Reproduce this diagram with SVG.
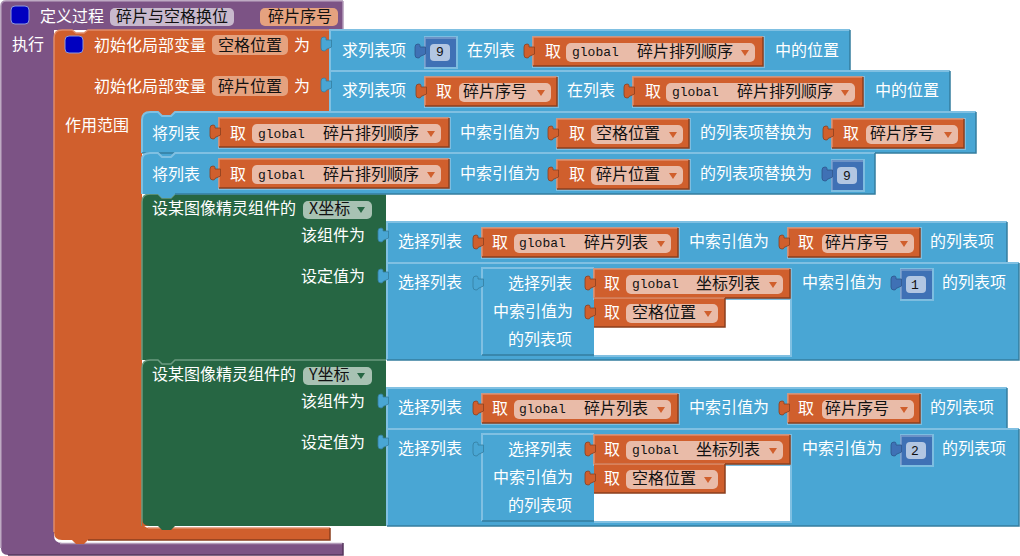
<svg xmlns="http://www.w3.org/2000/svg" width="1020" height="556" viewBox="0 0 1020 556">
<style>
text{font-family:"Noto Sans CJK SC","Liberation Sans",sans-serif;font-size:16px;fill:#fff}
text.k{fill:#111}
text.m{font-family:"Liberation Mono",monospace;font-size:13px;fill:#111}
.b{fill:#49a6d4}.bl{fill:none;stroke:#80c0e2;stroke-width:2}.bd{fill:none;stroke:#357d9f;stroke-width:1.5}
.o{fill:#d05f2d}.ol{fill:none;stroke:#e08c68;stroke-width:1.5}.od{fill:none;stroke:#8a3f1e;stroke-width:1.5}
.f{fill:#e9bba8}.a{fill:#d05f2d}
.h{fill:#7dbde0}
.g{fill:#266643}.gl{fill:none;stroke:#6b9a80;stroke-width:1.5}
.n{fill:#3f71b5}.nf{fill:#b2c6e2}
.tb{fill:#49a6d4;stroke:#357d9f;stroke-width:.8}
.to{fill:#d05f2d;stroke:#8a3f1e;stroke-width:.8}
.tn{fill:#3f71b5;stroke:#2d558c;stroke-width:.8}
</style>
<defs>
<path id="tab" d="M1.500 3H-4V1.500Q-4 0-6 0Q-9 0-9 3V11Q-9 14-6 14Q-4 14-4 12.500L1.500 10Z"/>
<path id="arr" d="M-4 0H4L0 6Z"/>
<g id="num">
<rect x="0" y="-1" width="34" height="33" class="h"/>
<rect x="1" y="0" width="31" height="30" class="n"/>
<path d="M1 30V1H32" fill="none" stroke="#7c9dcc" stroke-width="1.500"/>
<use href="#tab" class="tn" x="0" y="7"/>
<rect x="6" y="7" width="20" height="17" rx="4" class="nf"/>
</g>
<g id="get132">
<rect x="-1" y="-1" width="135" height="32" class="h"/>
<rect width="132" height="29" class="o"/>
<path d="M0 29V0H132" class="ol"/><path d="M0 29H132V0" class="od"/>
<use href="#tab" class="to" y="7"/>
<rect x="34" y="6" width="92" height="19" rx="5" class="f"/>
<use href="#arr" class="a" x="116" y="13"/>
</g>
<g id="get230">
<rect x="-1" y="-1" width="233" height="32" class="h"/>
<rect width="230" height="29" class="o"/>
<path d="M0 29V0H230" class="ol"/><path d="M0 29H230V0" class="od"/>
<use href="#tab" class="to" y="7"/>
<rect x="33" y="6" width="189" height="19" rx="5" class="f"/>
<use href="#arr" class="a" x="212" y="13"/>
</g>
<g id="get196">
<rect x="-1" y="-1" width="199" height="32" class="h"/>
<rect width="196" height="29" class="o"/>
<path d="M0 29V0H196" class="ol"/><path d="M0 29H196V0" class="od"/>
<use href="#tab" class="to" y="7"/>
<rect x="32" y="6" width="157" height="19" rx="5" class="f"/>
<use href="#arr" class="a" x="179" y="13"/>
</g>
<g id="row5">
<path d="M1 0H620V41H1Z" class="b"/><path d="M0 41V0H620" class="bl"/><path d="M0 41H620V0" class="bd"/>
<use href="#tab" class="tb" x="0" y="6"/>
<use href="#get196" x="95" y="6"/>
<use href="#get132" x="401" y="6"/>
</g>
<g id="row6">
<path d="M0 0H632V97H0Z" class="b"/><path d="M0 97V0H632" class="bl"/><path d="M0 97H632V0" class="bd"/>
<use href="#tab" class="tb" y="6"/>
<rect x="207" y="6" width="197" height="86" fill="#fff"/>
<path d="M404 5V93H207" fill="none" stroke="#80c0e2" stroke-width="2"/>
<rect x="95" y="5" width="112" height="87" class="b"/>
<path d="M95 92V5H207" class="bl"/><path d="M95 92H207" class="bd"/>
<use href="#tab" class="tb" x="95" y="13"/>
<use href="#get196" x="207" y="6"/>
<g><rect x="207" y="35" width="131" height="29" class="o"/>
<path d="M207 35H338" class="ol"/><path d="M207 64H338V35" class="od"/>
<use href="#tab" class="to" x="207" y="42"/>
<rect x="239" y="41" width="92" height="19" rx="5" class="f"/>
<use href="#arr" class="a" x="321" y="48"/></g>
<use href="#num" x="513" y="6"/>
</g>
<g id="green">
<path d="M150 0H158L162 4H171L175 0H386V166H142V8Q142 0 150 0Z" class="g"/>
<path d="M142 166V8Q142 0 150 0H158L162 4H171L175 0H386" class="gl"/>
<rect x="303" y="7" width="69" height="18" rx="5" fill="#a8c2b3"/>
<use href="#arr" fill="#266643" x="361" y="13"/>
</g>
</defs>

<g id="procedure">
<path d="M6 1H343V30H54V535Q54 543 62 543H343V555H8Q1 555 1 548V6Q1 1 6 1Z" fill="#7c5385"/>
<path d="M1 548V6Q1 1 6 1H343" fill="none" stroke="#a98eb0" stroke-width="1.500"/>
<path d="M343 1V30M60 543.500H343" fill="none" stroke="#b39cb9" stroke-width="1.500"/>
<path d="M343 543V555H8" fill="none" stroke="#55365c" stroke-width="1.500"/>
<rect x="11" y="6" width="18" height="18" rx="4" fill="#0000c0" stroke="#8f9ad8"/>
<text x="40" y="22">定义过程</text>
<rect x="110" y="8" width="124" height="18" rx="5" fill="#c8b9cd"/>
<text class="k" x="116" y="22">碎片与空格换位</text>
<rect x="260" y="8" width="78" height="18" rx="5" fill="#e5a27f"/>
<text class="k" x="268" y="22">碎片序号</text>
<text x="12" y="50">执行</text>
</g>

<g id="local-vars">
<path d="M62 30H72L76 33H84L88 30H330V112H175L171 116H162L158 112H150Q142 112 142 120V518Q142 528 150 528H330V540H88L84 544H76L72 540H62Q54 540 54 532V38Q54 30 62 30Z" class="o"/>
<path d="M54 532V38Q54 30 62 30H72L76 33H84L88 30H330" class="ol"/>
<path d="M148 528H330" class="ol"/><path d="M330 528V540H88" class="od"/>
<rect x="65" y="36" width="18" height="17" rx="4" fill="#0000c0" stroke="#8f9ad8"/>
<text x="94" y="51">初始化局部变量</text>
<rect x="212" y="35" width="76" height="20" rx="5" fill="#e5a27f"/>
<text class="k" x="218" y="51">空格位置</text>
<text x="294" y="51">为</text>
<text x="94" y="92">初始化局部变量</text>
<rect x="212" y="76" width="76" height="20" rx="5" fill="#e5a27f"/>
<text class="k" x="218" y="92">碎片位置</text>
<text x="294" y="92">为</text>
<text x="65" y="131">作用范围</text>
</g>

<g id="index-space">
<rect x="330" y="30" width="520" height="41" class="b"/><path d="M330 71V30H850" class="bl"/><path d="M330 71H850V30" class="bd"/>
<use href="#tab" class="tb" x="330" y="37"/>
<text x="342" y="56">求列表项</text>
<use href="#num" x="424" y="37"/>
<text class="m" x="436" y="56">9</text>
<text x="467" y="56">在列表</text>
<use href="#get230" x="533" y="37"/>
<text x="545" y="57">取</text><text class="m" x="572" y="56">global</text><text class="k" x="637" y="57">碎片排列顺序</text>
<text x="775" y="56">中的位置</text>
</g>
<g id="index-piece">
<rect x="330" y="71" width="620" height="41" class="b"/><path d="M330 112V71H950" class="bl"/><path d="M330 112H950V71" class="bd"/>
<use href="#tab" class="tb" x="330" y="78"/>
<text x="342" y="96">求列表项</text>
<use href="#get132" x="425" y="77"/>
<text x="436" y="97">取</text><text class="k" x="463" y="97">碎片序号</text>
<text x="567" y="96">在列表</text>
<use href="#get230" x="633" y="77"/>
<text x="645" y="97">取</text><text class="m" x="672" y="96">global</text><text class="k" x="737" y="97">碎片排列顺序</text>
<text x="875" y="96">中的位置</text>
</g>

<g id="set-x">
<use href="#green" y="194"/>
<path d="M158 360H175L171 365H162Z" class="g"/>
</g>
<g id="set-y">
<use href="#green" y="360"/>
<path d="M142 526V518Q142 526 150 526Z" class="o"/>
<path d="M158 526H175L171 530H162Z" class="g"/>
</g>

<g id="set-list-1">
<path d="M150 112H158L162 116H171L175 112H976V153H175L171 157H162L158 153H142V120Q142 112 150 112Z" class="b"/>
<path d="M142 153V120Q142 112 150 112H158L162 116H171L175 112H976" class="bl"/><path d="M142 153H976V112" class="bd"/>
<text x="152" y="139">将列表</text>
<use href="#get230" x="219" y="118"/>
<text x="230" y="139">取</text><text class="m" x="258" y="138">global</text><text class="k" x="323" y="139">碎片排列顺序</text>
<text x="460" y="138">中索引值为</text>
<use href="#get132" x="557" y="119"/>
<text x="569" y="139">取</text><text class="k" x="596" y="139">空格位置</text>
<text x="700" y="138">的列表项替换为</text>
<use href="#get132" x="832" y="119"/>
<text x="843" y="139">取</text><text class="k" x="870" y="139">碎片序号</text>
</g>
<g id="set-list-2">
<path d="M150 153H158L162 157H171L175 153H875V194H175L171 198H162L158 194H142V160Q142 153 150 153Z" class="b"/>
<path d="M142 194V160Q142 153 150 153H158L162 157H171L175 153H875" class="bl"/><path d="M175 194H875V153" class="bd"/>
<text x="152" y="180">将列表</text>
<use href="#get230" x="219" y="159"/>
<text x="230" y="180">取</text><text class="m" x="258" y="179">global</text><text class="k" x="323" y="180">碎片排列顺序</text>
<text x="460" y="179">中索引值为</text>
<use href="#get132" x="557" y="160"/>
<text x="569" y="180">取</text><text class="k" x="596" y="180">碎片位置</text>
<text x="700" y="179">的列表项替换为</text>
<use href="#num" x="831" y="160"/>
<text class="m" x="843" y="180">9</text>
</g>

<g id="x-labels">
<text x="152" y="214">设某图像精灵组件的</text>
<text class="k" x="309" y="214">X坐标</text>
<text x="301" y="241">该组件为</text>
<text x="301" y="282">设定值为</text>
</g>
<g id="x-pick">
<use href="#row5" x="387" y="222"/>
<text x="398" y="247">选择列表</text>
<text x="492" y="248">取</text><text class="m" x="519" y="247">global</text><text class="k" x="584" y="248">碎片列表</text>
<text x="689" y="247">中索引值为</text>
<text x="798" y="248">取</text><text class="k" x="825" y="248">碎片序号</text>
<text x="930" y="247">的列表项</text>
</g>
<g id="x-value">
<use href="#row6" x="387" y="263"/>
<text x="398" y="288">选择列表</text>
<text x="508" y="289">选择列表</text>
<text x="493" y="317">中索引值为</text>
<text x="508" y="345">的列表项</text>
<text x="604" y="289">取</text><text class="m" x="632" y="288">global</text><text class="k" x="696" y="289">坐标列表</text>
<text x="604" y="318">取</text><text class="k" x="632" y="318">空格位置</text>
<text x="802" y="288">中索引值为</text>
<text class="m" x="911" y="289">1</text>
<text x="942" y="288">的列表项</text>
</g>

<g id="y-labels">
<text x="152" y="380">设某图像精灵组件的</text>
<text class="k" x="309" y="380">Y坐标</text>
<text x="301" y="407">该组件为</text>
<text x="301" y="448">设定值为</text>
</g>
<g id="y-pick">
<use href="#row5" x="387" y="388"/>
<text x="398" y="413">选择列表</text>
<text x="492" y="414">取</text><text class="m" x="519" y="413">global</text><text class="k" x="584" y="414">碎片列表</text>
<text x="689" y="413">中索引值为</text>
<text x="798" y="414">取</text><text class="k" x="825" y="414">碎片序号</text>
<text x="930" y="413">的列表项</text>
</g>
<g id="y-value">
<use href="#row6" x="387" y="429"/>
<text x="398" y="454">选择列表</text>
<text x="508" y="455">选择列表</text>
<text x="493" y="483">中索引值为</text>
<text x="508" y="511">的列表项</text>
<text x="604" y="455">取</text><text class="m" x="632" y="454">global</text><text class="k" x="696" y="455">坐标列表</text>
<text x="604" y="484">取</text><text class="k" x="632" y="484">空格位置</text>
<text x="802" y="454">中索引值为</text>
<text class="m" x="911" y="455">2</text>
<text x="942" y="454">的列表项</text>
</g>
</svg>
